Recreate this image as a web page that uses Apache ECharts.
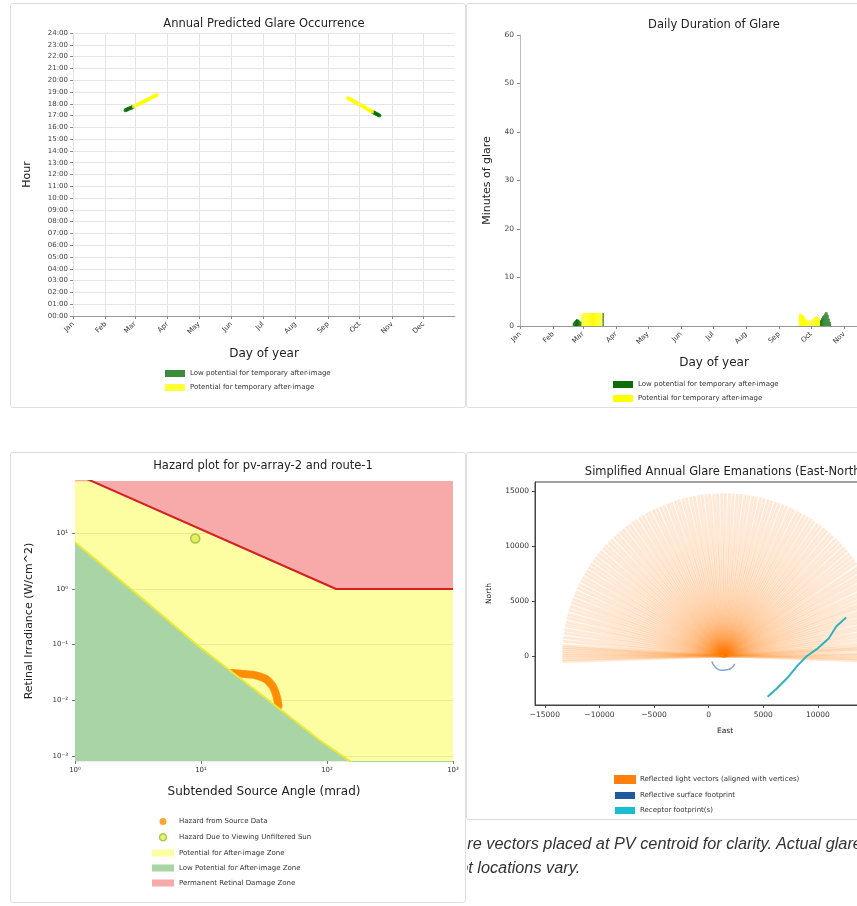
<!DOCTYPE html>
<html><head><meta charset="utf-8">
<script src="https://cdn.jsdelivr.net/npm/echarts@6/dist/echarts.min.js"></script>
<style>
html,body{margin:0;padding:0;width:857px;height:906px;overflow:hidden;background:#fff;}
.frame{position:absolute;border:1px solid #dedede;border-radius:3px;box-sizing:border-box;background:#fff;}
.chart{position:absolute;}
#caption{position:absolute;left:467px;top:831px;width:390px;height:60px;overflow:hidden;font-family:"Liberation Sans",Arial,sans-serif;font-style:italic;font-size:16.3px;color:#333;line-height:24px;}
#caption div{position:absolute;left:-25px;top:0;white-space:nowrap;}
</style></head>
<body>
<div class="frame" style="left:10px;top:3px;width:456px;height:405px"></div>
<div class="frame" style="left:466px;top:3px;width:456px;height:405px"></div>
<div class="frame" style="left:10px;top:452px;width:456px;height:451px"></div>
<div class="frame" style="left:466px;top:452px;width:456px;height:368px"></div>
<div id="c1" class="chart" style="left:10px;top:3px;width:456px;height:405px"></div>
<div id="c2" class="chart" style="left:466px;top:3px;width:456px;height:405px"></div>
<div id="c3" class="chart" style="left:10px;top:452px;width:456px;height:451px"></div>
<div id="c4" class="chart" style="left:466px;top:452px;width:456px;height:368px"></div>
<div id="caption"><div>Glare vectors placed at PV centroid for clarity. Actual glare<br>spot locations vary.</div></div>
<script>
// ---------------- data ----------------
const MONTH_LABELS = ['Jan','Feb','Mar','Apr','May','Jun','Jul','Aug','Sep','Oct','Nov','Dec'];
const MONTH_START_DAYS = [1,32,60,91,121,152,182,213,244,274,305,335];

// Panel 1: glare occurrence [day of year, hour]
const OCC_LOW = [[51,17.45],[52,17.49],[53,17.53],[54,17.57],[55,17.61],[56,17.64],[57,17.68],[58,17.72],
  [287,17.28],[288,17.23],[289,17.19],[290,17.14],[291,17.10],[292,17.05],[293,17.01]];
const OCC_POT = [[59,17.76],[60,17.80],[61,17.85],[62,17.89],[63,17.94],[64,17.98],[65,18.03],[66,18.07],[67,18.12],[68,18.16],
  [69,18.21],[70,18.25],[71,18.30],[72,18.34],[73,18.39],[74,18.43],[75,18.48],[76,18.52],[77,18.57],[78,18.61],[79,18.66],[80,18.70],[81,18.75],
  [263,18.48],[264,18.43],[265,18.38],[266,18.33],[267,18.28],[268,18.23],[269,18.18],[270,18.13],[271,18.08],[272,18.03],[273,17.98],
  [274,17.93],[275,17.88],[276,17.83],[277,17.78],[278,17.73],[279,17.68],[280,17.63],[281,17.58],[282,17.53],[283,17.48],[284,17.43],[285,17.38],[286,17.33]];

// Panel 2: daily minutes of glare [day, minutes]
const DUR_LOW = [[51,0.7],[52,1.0],[53,1.2],[54,1.4],[55,1.4],[56,1.3],[57,1.1],[58,0.9],[79,2.7],
  [283,1.2],[284,1.6],[285,2.0],[286,2.2],[287,2.6],[288,2.9],[289,2.8],[290,2.3],[291,1.5],[292,0.8]];
const DUR_POT = [[59,2.3],[60,2.6],[61,2.7],[62,2.7],[63,2.7],[64,2.7],[65,2.7],[66,2.7],[67,2.7],[68,2.7],[69,2.7],[70,2.7],
  [71,2.7],[72,2.7],[73,2.7],[74,2.7],[75,2.7],[76,2.7],[77,2.7],[78,2.6],
  [263,2.4],[264,2.6],[265,2.5],[266,2.3],[267,2.1],[268,1.8],[269,1.5],[270,1.3],[271,1.2],[272,1.1],[273,1.1],[274,1.2],
  [275,1.4],[276,1.6],[277,1.8],[278,1.9],[279,2.0],[280,1.9],[281,1.7],[282,1.4]];

// Panel 3: hazard plot [subtended angle mrad, retinal irradiance W/cm^2]
const HAZARD_SOURCE = [[17.6,0.031],[18.3,0.0308],[19,0.0305],[20,0.0302],[21,0.030],[22,0.0298],[23,0.0295],[24.2,0.0292],[25.5,0.029],
  [26.8,0.0283],[28,0.0275],[29.2,0.0268],[30.5,0.026],[31.8,0.025],[33,0.024],[34,0.0225],[35,0.021],[36,0.0195],[37,0.018],
  [37.8,0.0165],[38.5,0.015],[39,0.0137],[39.5,0.0125],[40,0.0115],[40.3,0.0105],[40.6,0.0097],[40.8,0.009],[41,0.0084],[41.2,0.0078]];
const HAZARD_SUN = [[9.0,8.1]];
const AFTERIMAGE_BOUNDARY = [[1,6.9],[3.16,0.78],[9.8,0.09],[31.6,0.0116],[88,0.0019],[152,0.00081],[1000,0.00001]];
const BURN_BOUNDARY = [[1,118],[118,1],[1000,1]];

// Panel 4: glare emanations (East, North)
const RAY_ORIGIN = [1400, 0];
const RAY_LENGTH = 14800;
const RAY_ANGLES_DEG = [-2.0,-1.2,-0.5,0.4,1.0,2.4,3.1,3.9,5.1,6.6,8.0,9.3,10.9,12.2,13.8,15.1,16.5,17.9,19.4,20.6,22.1,23.5,24.8,
  26.4,27.7,29.2,30.5,32.0,33.3,34.9,36.2,37.6,39.0,40.5,41.8,43.3,44.6,46.0,47.5,48.8,50.3,51.6,53.1,54.4,55.9,57.2,58.7,60.0,
  61.5,62.8,64.3,65.6,67.1,68.4,69.9,71.2,72.7,74.0,75.5,76.8,78.3,79.6,81.1,82.4,83.9,85.2,86.7,88.0,89.5,90.8,92.3,93.6,95.1,
  96.4,97.9,99.2,100.7,102.0,103.5,104.8,106.3,107.6,109.1,110.4,111.9,113.2,114.7,116.0,117.5,118.8,120.3,121.6,123.1,124.4,
  125.9,127.2,128.7,130.0,131.5,132.8,134.3,135.6,137.1,138.4,139.9,141.2,142.7,144.0,145.5,146.8,148.3,149.6,151.1,152.4,153.9,
  155.2,156.7,158.0,159.5,160.8,162.3,163.6,165.1,166.4,167.9,169.2,170.7,172.0,173.5,174.8,176.3,177.0,177.6,178.4,179.1,179.8,180.4,181.2,181.9];
const SURFACE_FOOTPRINT = [[300,-500],[600,-1000],[1200,-1300],[1900,-1200],[2400,-700]];
const RECEPTOR_ROUTE = [[5400,-3700],[6200,-3000],[7200,-2000],[8200,-800],[9000,0],[10000,700],[11000,1600],[11700,2700],[12600,3500]];
const EAST_TICKS = [-15000,-10000,-5000,0,5000,10000,15000];
const NORTH_TICKS = [0,5000,10000,15000];

// ---------------- helpers ----------------
const FONT = 'DejaVu Sans';
const SUP = {'-':'\u207B','0':'\u2070','1':'\u00B9','2':'\u00B2','3':'\u00B3'};
function pow10Label(v){ const e = String(Math.round(Math.log10(v))); return '10' + e.split('').map(c=>SUP[c]).join(''); }
function monthLabel(v){ const i = MONTH_START_DAYS.indexOf(v); return i >= 0 ? MONTH_LABELS[i] : ''; }
function plainNum(v){ return String(Math.round(v)).replace('-', '\u2212'); }
function titleText(x, y, text){
  return {type:'text', x:x, y:y, silent:true, style:{text:text, fill:'#222', font:'11.5px "'+FONT+'"', textAlign:'center', textVerticalAlign:'middle'}};
}
function dayBar(params, api){
  const d = api.value(0), m = api.value(1);
  const p0 = api.coord([d - 0.5, m]);
  const p1 = api.coord([d + 0.5, 0]);
  return {type:'rect', shape:{x:p0[0], y:p0[1], width:p1[0]-p0[0], height:p1[1]-p0[1]}, style:{fill: api.visual('color')}};
}
const GREEN = '#0b6e0b', YELLOW = '#ffff00';

// ---------------- panel 1 ----------------
const c1 = echarts.init(document.getElementById('c1'));
c1.setOption({
  animation:false,
  graphic:[titleText(254, 21, 'Annual Predicted Glare Occurrence')],
  grid:{left:63, top:30, width:382, height:283},
  xAxis:{type:'value', min:1, max:365, name:'Day of year', nameLocation:'middle', nameGap:32,
    nameTextStyle:{fontFamily:FONT, fontSize:12, color:'#222'},
    axisLine:{lineStyle:{color:'#999'}},
    axisTick:{customValues:MONTH_START_DAYS, length:3, lineStyle:{color:'#888'}},
    axisLabel:{customValues:MONTH_START_DAYS, formatter:monthLabel, rotate:45, fontSize:7, fontFamily:FONT, color:'#333', margin:7},
    splitLine:{show:false}},
  yAxis:{type:'value', min:0, max:24, interval:1, name:'Hour', nameLocation:'middle', nameGap:40,
    nameTextStyle:{fontFamily:FONT, fontSize:11, color:'#222'},
    axisLine:{show:false}, axisTick:{show:true, length:3, lineStyle:{color:'#888'}},
    axisLabel:{formatter:v => (v < 10 ? '0' : '') + v + ':00', fontSize:7, fontFamily:FONT, color:'#444', margin:5},
    splitLine:{lineStyle:{color:'#e4e4e4'}}},
  legend:{orient:'vertical', left:150, top:362, itemWidth:20, itemHeight:7, itemGap:7, icon:'rect',
    textStyle:{fontFamily:FONT, fontSize:7, color:'#333'},
    data:['Low potential for temporary after-image','Potential for temporary after-image']},
  series:[
    {type:'line', data:[], silent:true, markLine:{silent:true, symbol:'none', label:{show:false},
      lineStyle:{color:'#e4e4e4', type:'solid', width:1}, data:MONTH_START_DAYS.map(d => ({xAxis:d}))}},
    {name:'Low potential for temporary after-image', type:'scatter', data:OCC_LOW, symbolSize:4, itemStyle:{color:GREEN}},
    {name:'Potential for temporary after-image', type:'scatter', data:OCC_POT, symbolSize:4, itemStyle:{color:YELLOW}}
  ]
});

// ---------------- panel 2 ----------------
const c2 = echarts.init(document.getElementById('c2'));
c2.setOption({
  animation:false,
  graphic:[titleText(248, 22, 'Daily Duration of Glare')],
  grid:{left:54, top:32, width:388, height:291},
  xAxis:{type:'value', min:1, max:365, name:'Day of year', nameLocation:'middle', nameGap:31,
    nameTextStyle:{fontFamily:FONT, fontSize:12, color:'#222'},
    axisLine:{lineStyle:{color:'#999'}},
    axisTick:{customValues:MONTH_START_DAYS, length:3, lineStyle:{color:'#888'}},
    axisLabel:{customValues:MONTH_START_DAYS, formatter:monthLabel, rotate:45, fontSize:7, fontFamily:FONT, color:'#333', margin:7},
    splitLine:{show:false}},
  yAxis:{type:'value', min:0, max:60, interval:10, name:'Minutes of glare', nameLocation:'middle', nameGap:27,
    nameTextStyle:{fontFamily:FONT, fontSize:11, color:'#222'},
    axisLine:{show:true, lineStyle:{color:'#bbb'}}, axisTick:{show:true, length:3, lineStyle:{color:'#888'}},
    axisLabel:{fontSize:7.5, fontFamily:FONT, color:'#444', margin:6},
    splitLine:{show:false}},
  legend:{orient:'vertical', left:142, top:373, itemWidth:20, itemHeight:7, itemGap:7, icon:'rect',
    textStyle:{fontFamily:FONT, fontSize:7, color:'#333'},
    data:['Low potential for temporary after-image','Potential for temporary after-image']},
  series:[
    {name:'Potential for temporary after-image', type:'custom', renderItem:dayBar, data:DUR_POT, itemStyle:{color:YELLOW}, encode:{x:0, y:1}},
    {name:'Low potential for temporary after-image', type:'custom', renderItem:dayBar, data:DUR_LOW, itemStyle:{color:GREEN}, encode:{x:0, y:1}}
  ]
});

// ---------------- panel 3 ----------------
const ZONE_YELLOW = '#fdfda2', ZONE_GREEN = '#a9d4a5', ZONE_RED = '#f8a9a9';
const c3 = echarts.init(document.getElementById('c3'));
c3.setOption({
  animation:false,
  graphic:[titleText(253, 14, 'Hazard plot for pv-array-2 and route-1')],
  grid:{left:65, top:29, width:378, height:280, show:true, backgroundColor:ZONE_YELLOW, borderWidth:0},
  xAxis:{type:'log', logBase:10, min:1, max:1000, name:'Subtended Source Angle (mrad)', nameLocation:'middle', nameGap:25,
    nameTextStyle:{fontFamily:FONT, fontSize:12, color:'#222'},
    axisLine:{show:false}, axisTick:{show:true, length:3, lineStyle:{color:'#777'}},
    axisLabel:{formatter:pow10Label, fontSize:7, fontFamily:FONT, color:'#333', margin:6},
    splitLine:{show:false}},
  yAxis:{type:'log', logBase:10, min:Math.pow(10,-3.09), max:Math.pow(10,1.94), name:'Retinal Irradiance (W/cm^2)',
    nameLocation:'middle', nameGap:40, nameTextStyle:{fontFamily:FONT, fontSize:11, color:'#222'},
    axisLine:{show:false}, axisTick:{show:true, length:3, lineStyle:{color:'#777'}},
    axisLabel:{formatter:pow10Label, fontSize:7, fontFamily:FONT, color:'#333', margin:7, showMinLabel:false, showMaxLabel:false},
    splitLine:{show:true, lineStyle:{color:'rgba(0,0,0,0.07)'}}},
  legend:{orient:'vertical', left:137, top:361, itemWidth:22, itemHeight:7, itemGap:8,
    textStyle:{fontFamily:FONT, fontSize:7, color:'#333'},
    data:[
      {name:'Hazard from Source Data', icon:'circle', itemStyle:{color:'#ff8c00'}},
      {name:'Hazard Due to Viewing Unfiltered Sun', icon:'circle', itemStyle:{color:'#e8e84a', borderColor:'#8fbf3a', borderWidth:1.5}},
      {name:'Potential for After-image Zone', icon:'rect', itemStyle:{color:ZONE_YELLOW}},
      {name:'Low Potential for After-image Zone', icon:'rect', itemStyle:{color:ZONE_GREEN}},
      {name:'Permanent Retinal Damage Zone', icon:'rect', itemStyle:{color:ZONE_RED}}
    ]},
  series:[
    {name:'Potential for After-image Zone', type:'line', data:[], itemStyle:{color:ZONE_YELLOW}},
    {name:'Low Potential for After-image Zone', type:'line', data:AFTERIMAGE_BOUNDARY, symbol:'none', smooth:false,
      lineStyle:{color:'#e9e936', width:2}, areaStyle:{color:ZONE_GREEN, opacity:1, origin:'start'}, itemStyle:{color:ZONE_GREEN}},
    {name:'Permanent Retinal Damage Zone', type:'line', data:BURN_BOUNDARY, symbol:'none',
      lineStyle:{color:'#d42020', width:2}, areaStyle:{color:ZONE_RED, opacity:1, origin:'end'}, itemStyle:{color:ZONE_RED}},
    {name:'Hazard from Source Data', type:'scatter', data:HAZARD_SOURCE, symbolSize:8, itemStyle:{color:'#ff8c00'}},
    {name:'Hazard Due to Viewing Unfiltered Sun', type:'scatter', data:HAZARD_SUN, symbolSize:9,
      itemStyle:{color:'#e8e84a', borderColor:'#8fbf3a', borderWidth:1.5}}
  ]
});

// ---------------- panel 4 ----------------
const RAYS = RAY_ANGLES_DEG.map(a => {
  const r = a * Math.PI / 180;
  return {coords:[RAY_ORIGIN, [RAY_ORIGIN[0] + RAY_LENGTH * Math.cos(r), RAY_ORIGIN[1] + RAY_LENGTH * Math.sin(r)]]};
});
const c4 = echarts.init(document.getElementById('c4'));
c4.setOption({
  animation:false,
  graphic:[titleText(259, 20, 'Simplified Annual Glare Emanations (East-North)')],
  grid:{left:69, top:30, width:380, height:223, show:true, borderColor:'#444', borderWidth:1},
  xAxis:{type:'value', min:-15900, max:18900, name:'East', nameLocation:'middle', nameGap:22,
    nameTextStyle:{fontFamily:FONT, fontSize:7.5, color:'#222'},
    axisLine:{show:true, onZero:false, lineStyle:{color:'#444'}}, axisTick:{customValues:EAST_TICKS, length:3, lineStyle:{color:'#444'}},
    axisLabel:{customValues:EAST_TICKS, formatter:plainNum, fontSize:7.5, fontFamily:FONT, color:'#333', margin:6},
    splitLine:{show:false}},
  yAxis:{type:'value', min:-4450, max:15820, name:'North', nameLocation:'middle', nameGap:42,
    nameTextStyle:{fontFamily:FONT, fontSize:7.5, color:'#222'},
    axisLine:{show:true, onZero:false, lineStyle:{color:'#444'}}, axisTick:{customValues:NORTH_TICKS, length:3, lineStyle:{color:'#444'}},
    axisLabel:{customValues:NORTH_TICKS, formatter:plainNum, fontSize:7.5, fontFamily:FONT, color:'#333', margin:6},
    splitLine:{show:false}},
  legend:{orient:'vertical', left:143, top:318, itemWidth:20, itemHeight:7, itemGap:8,
    textStyle:{fontFamily:FONT, fontSize:7, color:'#333'},
    data:[
      {name:'Reflected light vectors (aligned with vertices)', icon:'rect', itemStyle:{color:'#ff7f0e', opacity:1}},
      {name:'Reflective surface footprint', icon:'rect', itemStyle:{color:'#1f5a9e'}},
      {name:'Receptor footprint(s)', icon:'rect', itemStyle:{color:'#17becf'}}
    ]},
  series:[
    {name:'Reflected light vectors (aligned with vertices)', type:'lines', coordinateSystem:'cartesian2d', data:RAYS,
      lineStyle:{color:'#ff7f0e', width:3, opacity:0.17}, silent:true},
    {name:'Reflective surface footprint', type:'line', data:SURFACE_FOOTPRINT, symbol:'none', smooth:true,
      lineStyle:{color:'#7ea6d6', width:1.5}, itemStyle:{color:'#1f5a9e'}},
    {name:'Receptor footprint(s)', type:'line', data:RECEPTOR_ROUTE, symbol:'none',
      lineStyle:{color:'#2fb3bd', width:2}, itemStyle:{color:'#17becf'}}
  ]
});
</script>
</body></html>
